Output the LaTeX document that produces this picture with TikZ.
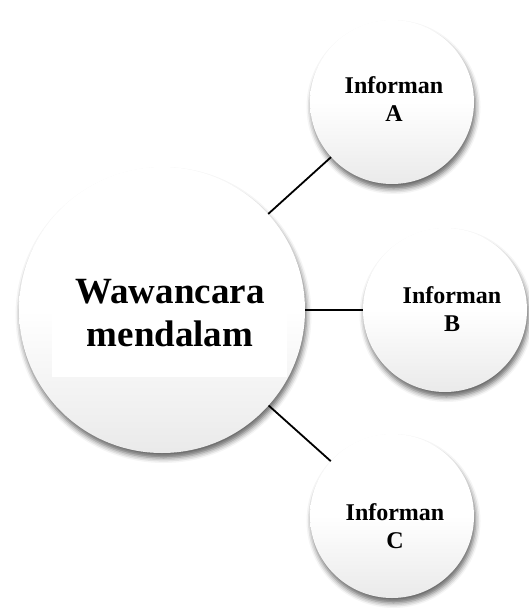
\documentclass[tikz,border=0pt]{standalone}
\usepackage{fontspec}
\setmainfont{Liberation Serif}
\usetikzlibrary{shadows.blur}
% soft white-to-grey fill of the balls (0bp = bottom)
\pgfdeclareverticalshading{orbfill}{100bp}{color(0bp)=(black!18); color(20bp)=(black!10); color(50bp)=(white); color(100bp)=(white)}
\begin{document}
\begin{tikzpicture}[x=1pt,y=-1pt,
  orb/.style={circle, inner sep=0pt, shading=orbfill,
    blur shadow={shadow xshift=1.5pt, shadow yshift=-5pt, shadow blur radius=5pt, shadow opacity=60}},
  bigorb/.style={orb, minimum size=286pt},
  smallorb/.style={orb, minimum size=164pt},
  link/.style={line width=1.8pt, black},
  bigtext/.style={font=\bfseries\fontsize{37}{43}\selectfont, align=center},
  smalltext/.style={font=\bfseries\fontsize{24}{28}\selectfont, align=center}]
\useasboundingbox (0,0) rectangle (528,612);
% balls
\node[bigorb] (wm) at (162,310) {};
\node[smallorb] (ia) at (392,102) {};
\node[smallorb] (ib) at (445,310) {};
\node[smallorb] (ic) at (392,516) {};
% connectors
\draw[link] (wm) -- (ia);
\draw[link] (wm) -- (ib);
\draw[link] (wm) -- (ic);
% white text box of the central ball
\fill[white] (52,240) rectangle (287,377);
% labels
\node[bigtext] (twm) at (170,313) {Wawancara\\mendalam};
\node[smalltext] (tia) at (394,99) {Informan\\A};
\node[smalltext] (tib) at (452,309) {Informan\\B};
\node[smalltext] (tic) at (395,526) {Informan\\C};
\end{tikzpicture}
\end{document}
